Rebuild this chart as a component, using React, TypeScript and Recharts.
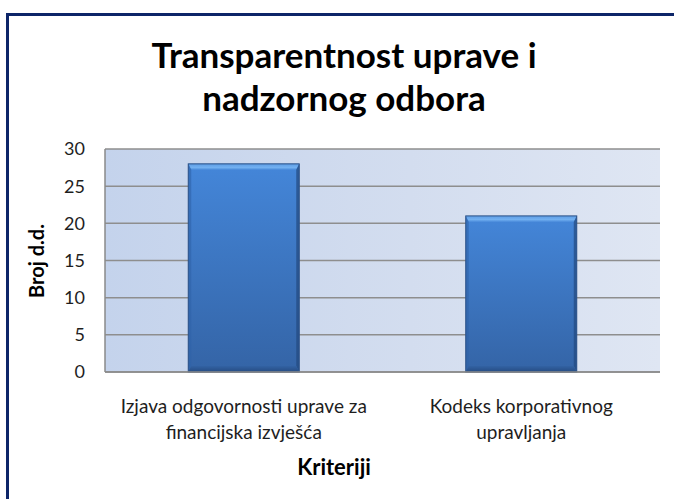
import React from 'react';
import { BarChart, Bar, XAxis, YAxis, CartesianGrid } from 'recharts';

const categories = ['Izjava odgovornosti uprave za financijska izvješća', 'Kodeks korporativnog upravljanja'];
const categoryLines = [
  ['Izjava odgovornosti uprave za', 'financijska izvješća'],
  ['Kodeks korporativnog', 'upravljanja'],
];
const counts = [28, 21];
const yTicks = [0, 5, 10, 15, 20, 25, 30];
const titleLines = ['Transparentnost uprave i', 'nadzornog odbora'];
const yTitle = 'Broj d.d.';
const xTitle = 'Kriteriji';

const FONT = "Lato, 'Open Sans', 'Liberation Sans', sans-serif";

const data = categories.map((name, i) => ({ name, value: counts[i] }));

// two-line category labels under the bars
const CategoryTick = (props: any) => {
  const { x, y, index } = props;
  const lines = categoryLines[index] ?? [props.payload.value];
  return (
    <g>
      {lines.map((line: string, i: number) => (
        <text key={i} x={x} y={y + 41 + i * 26} textAnchor="middle" fontFamily={FONT} fontSize={19} fill="#1e1e1e">
          {line}
        </text>
      ))}
    </g>
  );
};

// bevelled bar like the office 3d preset
const BevelBar = (props: any) => {
  const { x, y, width: w, height: h } = props;
  if (!h || h <= 0) return null;
  const t = 6;
  const s = 3;
  return (
    <g>
      <rect x={x} y={y} width={w} height={h} fill="url(#barBody)" />
      <polygon points={`${x},${y} ${x + w},${y} ${x + w - s},${y + t} ${x + s},${y + t}`} fill="url(#barTop)" />
      <polygon points={`${x},${y} ${x + s},${y + t} ${x + s},${y + h - t} ${x},${y + h}`} fill="#2f62a8" opacity={0.6} />
      <polygon points={`${x + w},${y} ${x + w - s},${y + t} ${x + w - s},${y + h - t} ${x + w},${y + h}`} fill="#22497f" opacity={0.7} />
      <polygon points={`${x},${y + h} ${x + s},${y + h - t} ${x + w - s},${y + h - t} ${x + w},${y + h}`} fill="url(#barBottom)" />
      <rect x={x} y={y} width={w} height={h} fill="none" stroke="#2c5287" strokeWidth={1} />
    </g>
  );
};

export default function App() {
  return (
    <div style={{ position: 'absolute', left: 0, top: 0, width: 674, height: 499, background: '#fff', overflow: 'hidden' }}>
      <div
        style={{
          position: 'absolute',
          left: 6,
          top: 13,
          width: 720,
          height: 520,
          borderLeft: '3px solid #0d2568',
          borderTop: '3px solid #0d2568',
        }}
      />
      <BarChart
        width={674}
        height={499}
        data={data}
        margin={{ top: 149, right: 14, bottom: 47, left: 65 }}
        barCategoryGap="30%"
        style={{ position: 'absolute', left: 0, top: 0 }}
      >
        <defs>
          <linearGradient id="plotBg" x1="0" y1="0" x2="1" y2="0">
            <stop offset="0%" stopColor="#c4d3ec" />
            <stop offset="55%" stopColor="#d3ddef" />
            <stop offset="100%" stopColor="#dfe6f3" />
          </linearGradient>
          <linearGradient id="barBody" x1="0" y1="0" x2="0" y2="1">
            <stop offset="0%" stopColor="#4486d9" />
            <stop offset="100%" stopColor="#3464a6" />
          </linearGradient>
          <linearGradient id="barTop" x1="0" y1="0" x2="0" y2="1">
            <stop offset="0%" stopColor="#5d9de6" />
            <stop offset="60%" stopColor="#72b0f0" />
            <stop offset="100%" stopColor="#4a8bdb" />
          </linearGradient>
          <linearGradient id="barBottom" x1="0" y1="0" x2="0" y2="1">
            <stop offset="0%" stopColor="#3262a3" />
            <stop offset="100%" stopColor="#264c82" />
          </linearGradient>
        </defs>
        <CartesianGrid vertical={false} stroke="#8e8e8e" strokeWidth={1.5} fill="url(#plotBg)" fillOpacity={1} />
        <XAxis
          dataKey="name"
          height={80}
          tickLine={false}
          tickSize={0}
          tickMargin={0}
          axisLine={{ stroke: '#8a8a8a', strokeWidth: 1.5 }}
          tick={<CategoryTick />}
          interval={0}
        />
        <YAxis
          width={40}
          domain={[0, 30]}
          ticks={yTicks}
          tickLine={false}
          tickSize={0}
          tickMargin={20}
          axisLine={{ stroke: '#8a8a8a', strokeWidth: 1.5 }}
          tick={{ fontFamily: FONT, fontSize: 18, fill: '#1e1e1e' }}
        />
        <Bar dataKey="value" shape={<BevelBar />} isAnimationActive={false} />
      </BarChart>
      <svg width={674} height={499} style={{ position: 'absolute', left: 0, top: 0, pointerEvents: 'none' }}>
        {titleLines.map((line, i) => (
          <text key={i} x={344} y={68 + i * 43} textAnchor="middle" fontFamily={FONT} fontWeight="bold" fontSize={35} fill="#000">
            {line}
          </text>
        ))}
        <text
          x={0}
          y={0}
          transform="translate(44 261) rotate(-90)"
          textAnchor="middle"
          fontFamily={FONT}
          fontWeight="bold"
          fontSize={20}
          fill="#000"
        >
          {yTitle}
        </text>
        <text x={334} y={475} textAnchor="middle" fontFamily={FONT} fontWeight="bold" fontSize={22} fill="#000">
          {xTitle}
        </text>
      </svg>
    </div>
  );
}
